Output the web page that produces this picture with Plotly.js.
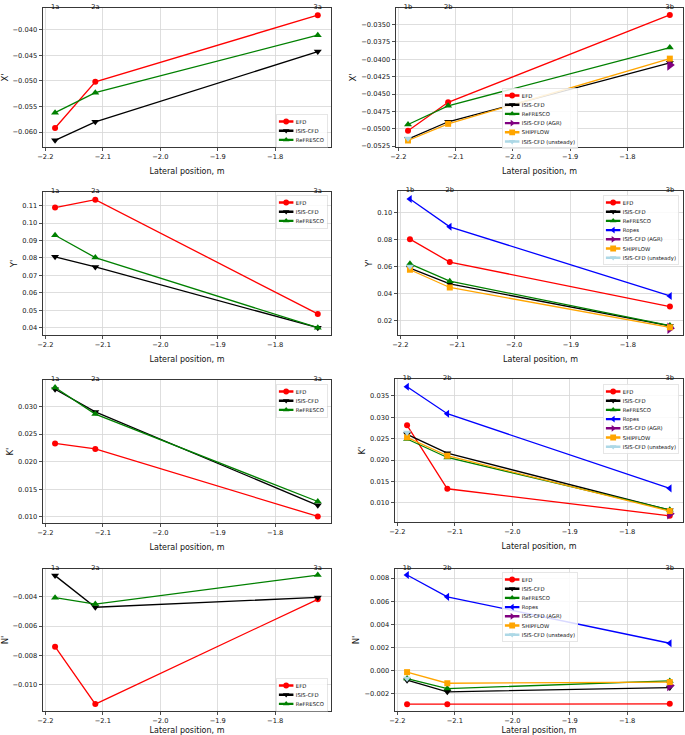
<!DOCTYPE html>
<html><head><meta charset="utf-8">
<script src="https://cdn.plot.ly/plotly-3.0.1.min.js"></script>
<style>html,body{margin:0;padding:0;background:#fff}#chart{width:685px;height:735px}</style>
</head><body><div id="chart"></div>
<script>
// ---- data ----
const posA = [-2.183, -2.113, -1.726];
const posB = [-2.183, -2.113, -1.726];
const labelsA = ['1a', '2a', '3a'];
const labelsB = ['1b', '2b', '3b'];
const xTicks = [-2.2, -2.1, -2.0, -1.9, -1.8];

// X'
const xEfdA = [-0.0592, -0.0502, -0.0372];
const xIsisA = [-0.0616, -0.0580, -0.0443];
const xRefA = [-0.0562, -0.0523, -0.0411];
const xEfdB = [-0.0503, -0.0462, -0.0336];
const xIsisB = [-0.0515, -0.0490, -0.0405];
const xRefB = [-0.0494, -0.0467, -0.0383];
const xAgrB = [-0.0408];
const xShipB = [-0.0517, -0.0493, -0.0399];
const xUnsB = [-0.0514];
// Y'
const yEfdA = [0.1089, 0.1134, 0.0479];
const yIsisA = [0.0806, 0.0748, 0.0400];
const yRefA = [0.0930, 0.0802, 0.0400];
const yEfdB = [0.0805, 0.0635, 0.0304];
const yIsisB = [0.0590, 0.0473, 0.0160];
const yRefB = [0.0622, 0.0493, 0.0163];
const yRopB = [0.1104, 0.0897, 0.0383];
const yAgrB = [0.0143];
const yShipB = [0.0578, 0.0446, 0.0150];
const yUnsB = [0.0602];
// K'
const kEfdA = [0.0233, 0.0223, 0.0101];
const kIsisA = [0.0331, 0.0290, 0.0121];
const kRefA = [0.0334, 0.0286, 0.0128];
const kEfdB = [0.0281, 0.0133, 0.0070];
const kIsisB = [0.0260, 0.0216, 0.0083];
const kRefB = [0.0249, 0.0206, 0.0084];
const kRopB = [0.0371, 0.0308, 0.0134];
const kAgrB = [0.0075];
const kShipB = [0.0253, 0.0210, 0.0081];
const kUnsB = [0.0264];
// N'
const nEfdA = [-0.0074, -0.0113, -0.00418];
const nIsisA = [-0.00257, -0.00472, -0.00405];
const nRefA = [-0.00407, -0.0045, -0.00253];
const nEfdB = [-0.00291, -0.00291, -0.00288];
const nIsisB = [-0.00084, -0.00184, -0.00147];
const nRefB = [-0.0007, -0.00156, -0.0009];
const nRopB = [0.00826, 0.00637, 0.00236];
const nAgrB = [-0.0013];
const nShipB = [-0.00014, -0.0011, -0.0010];
const nUnsB = [-0.0007];

// ---- styles ----
const STY = {
  'EFD': {color: '#ff0000', symbol: 'circle', size: 6},
  'ISIS-CFD': {color: '#000000', symbol: 'triangle-down', size: 7},
  'ReFRESCO': {color: '#008000', symbol: 'triangle-up', size: 7},
  'Ropes': {color: '#0000ff', symbol: 'triangle-left', size: 7},
  'ISIS-CFD (AGR)': {color: '#800080', symbol: 'triangle-right', size: 10},
  'SHIPFLOW': {color: '#ffa500', symbol: 'square', size: 6},
  'ISIS-CFD (unsteady)': {color: '#add8e6', symbol: 'triangle-down', size: 7}
};

const first = a => [a[0]];
const last = a => [a[a.length - 1]];

const panels = [
  {ytitle: "X'", top: labelsA, pos: posA, series: [['EFD', posA, xEfdA], ['ISIS-CFD', posA, xIsisA], ['ReFRESCO', posA, xRefA]]},
  {ytitle: "X'", top: labelsB, pos: posB, series: [['EFD', posB, xEfdB], ['ISIS-CFD', posB, xIsisB], ['ReFRESCO', posB, xRefB], ['ISIS-CFD (AGR)', last(posB), xAgrB], ['SHIPFLOW', posB, xShipB], ['ISIS-CFD (unsteady)', first(posB), xUnsB]]},
  {ytitle: "Y'", top: labelsA, pos: posA, series: [['EFD', posA, yEfdA], ['ISIS-CFD', posA, yIsisA], ['ReFRESCO', posA, yRefA]]},
  {ytitle: "Y'", top: labelsB, pos: posB, series: [['EFD', posB, yEfdB], ['ISIS-CFD', posB, yIsisB], ['ReFRESCO', posB, yRefB], ['Ropes', posB, yRopB], ['ISIS-CFD (AGR)', last(posB), yAgrB], ['SHIPFLOW', posB, yShipB], ['ISIS-CFD (unsteady)', first(posB), yUnsB]]},
  {ytitle: "K'", top: labelsA, pos: posA, series: [['EFD', posA, kEfdA], ['ISIS-CFD', posA, kIsisA], ['ReFRESCO', posA, kRefA]]},
  {ytitle: "K'", top: labelsB, pos: posB, series: [['EFD', posB, kEfdB], ['ISIS-CFD', posB, kIsisB], ['ReFRESCO', posB, kRefB], ['Ropes', posB, kRopB], ['ISIS-CFD (AGR)', last(posB), kAgrB], ['SHIPFLOW', posB, kShipB], ['ISIS-CFD (unsteady)', first(posB), kUnsB]]},
  {ytitle: "N'", top: labelsA, pos: posA, series: [['EFD', posA, nEfdA], ['ISIS-CFD', posA, nIsisA], ['ReFRESCO', posA, nRefA]]},
  {ytitle: "N'", top: labelsB, pos: posB, series: [['EFD', posB, nEfdB], ['ISIS-CFD', posB, nIsisB], ['ReFRESCO', posB, nRefB], ['Ropes', posB, nRopB], ['ISIS-CFD (AGR)', last(posB), nAgrB], ['SHIPFLOW', posB, nShipB], ['ISIS-CFD (unsteady)', first(posB), nUnsB]]}
];

// ---- layout geometry (pixels) ----
const W = 685, H = 735;
const frames = [
  [43, 331, 8, 147], [396, 683, 8, 147],
  [43, 331, 192, 335], [398, 683, 191, 335],
  [43, 331, 380, 523], [395, 683, 379, 522],
  [43, 331, 569, 711], [395, 683, 569, 711]
];
const yRanges = [
  [-0.0629, -0.0358], [-0.05264, -0.0326],
  [0.0358, 0.1178], [0.0093, 0.1163],
  [0.00891, 0.03477], [0.00555, 0.0389],
  [-0.01177, -0.00212], [-0.0035, 0.00878]
];
const yFmt = [
  ['.3f', 0.005], ['.4f', 0.0025],
  ['.2f', 0.01], ['.2f', 0.02],
  ['.3f', 0.005], ['.3f', 0.005],
  ['.3f', 0.002], ['.3f', 0.002]
];
const xRange = [-2.204, -1.703];
const legendPos = [
  [276, 114], [502, 88], [276, 195], [603, 195],
  [276, 384], [603, 384], [276, 678], [502, 572]
];
const LSCALE = 0.484;

const FONT = 'DejaVu Sans, sans-serif';
const TICKF = {size: 6.7, family: FONT, color: '#111'};
const traces = [];
const layout = {
  width: W, height: H,
  margin: {l: 0, r: 0, t: 0, b: 0, autoexpand: false},
  paper_bgcolor: '#fff', plot_bgcolor: '#fff',
  font: {family: FONT, color: '#000'},
  showlegend: true
};

panels.forEach((p, i) => {
  const k = i + 1;
  const sfx = k === 1 ? '' : String(k);
  const f = frames[i];
  p.series.forEach(([name, xs, ys]) => {
    const s = STY[name];
    traces.push({
      type: 'scatter', mode: 'lines+markers', name: name, x: xs, y: ys,
      xaxis: 'x' + sfx, yaxis: 'y' + sfx, legend: 'legend' + sfx,
      line: {color: s.color, width: 1.3},
      marker: {color: s.color, symbol: s.symbol, size: s.size, line: {width: 0}},
      cliponaxis: false, hoverinfo: 'skip'
    });
  });
  // empty trace so the top (position label) axis is drawn
  traces.push({
    type: 'scatter', mode: 'markers', x: p.pos, y: p.pos.map(() => null),
    xaxis: 'x' + (k + 8), yaxis: 'y' + sfx, showlegend: false, hoverinfo: 'skip'
  });
  const xd = [f[0] / W, f[1] / W];
  const yd = [1 - f[3] / H, 1 - f[2] / H];
  layout['xaxis' + sfx] = {
    domain: xd, range: xRange, anchor: 'y' + sfx,
    tickmode: 'array', tickvals: xTicks, tickformat: '.1f',
    showline: true, mirror: true, linecolor: '#222', linewidth: 0.9,
    ticks: 'outside', ticklen: 3.5, tickwidth: 0.8, tickcolor: '#222',
    showgrid: true, gridcolor: '#d6d6d6', gridwidth: 0.8, zeroline: false,
    tickfont: TICKF,
    title: {text: 'Lateral position, m', font: {size: 8, family: FONT, color: '#111'}, standoff: 7}
  };
  const [fmt, dt] = yFmt[i];
  layout['yaxis' + sfx] = {
    domain: yd, range: yRanges[i], anchor: 'x' + sfx,
    tick0: 0, dtick: dt, tickformat: fmt,
    showline: true, mirror: true, linecolor: '#222', linewidth: 0.9,
    ticks: 'outside', ticklen: 3.5, tickwidth: 0.8, tickcolor: '#222',
    showgrid: true, gridcolor: '#d6d6d6', gridwidth: 0.8, zeroline: false,
    tickfont: TICKF,
    title: {text: p.ytitle, font: {size: 8.5, family: FONT, color: '#111'}, standoff: 3}
  };
  layout['xaxis' + (k + 8)] = {
    overlaying: 'x' + sfx, anchor: 'y' + sfx, side: 'top',
    range: xRange, tickmode: 'array', tickvals: p.pos, ticktext: p.top,
    showgrid: false, showline: false, zeroline: false, ticks: '',
    ticklabelstandoff: -3,
    tickfont: TICKF
  };
  layout['legend' + sfx] = {
    x: 0, y: 1, xref: 'paper', yref: 'paper', xanchor: 'left', yanchor: 'top',
    font: {size: 11, family: FONT, color: '#111'},
    bgcolor: 'rgba(255,255,255,0.85)', bordercolor: '#cccccc', borderwidth: 1,
    itemsizing: 'constant', tracegroupgap: 0
  };
});

Plotly.newPlot('chart', traces, layout, {staticPlot: true, displayModeBar: false}).then(() => {
  legendPos.forEach(([px, py], i) => {
    const id = i === 0 ? 'legend' : 'legend' + (i + 1);
    const g = document.querySelector('#chart g.' + id);
    if (g) g.setAttribute('transform', 'translate(' + px + ',' + py + ') scale(' + LSCALE + ')');
  });
});
</script>
</body></html>
